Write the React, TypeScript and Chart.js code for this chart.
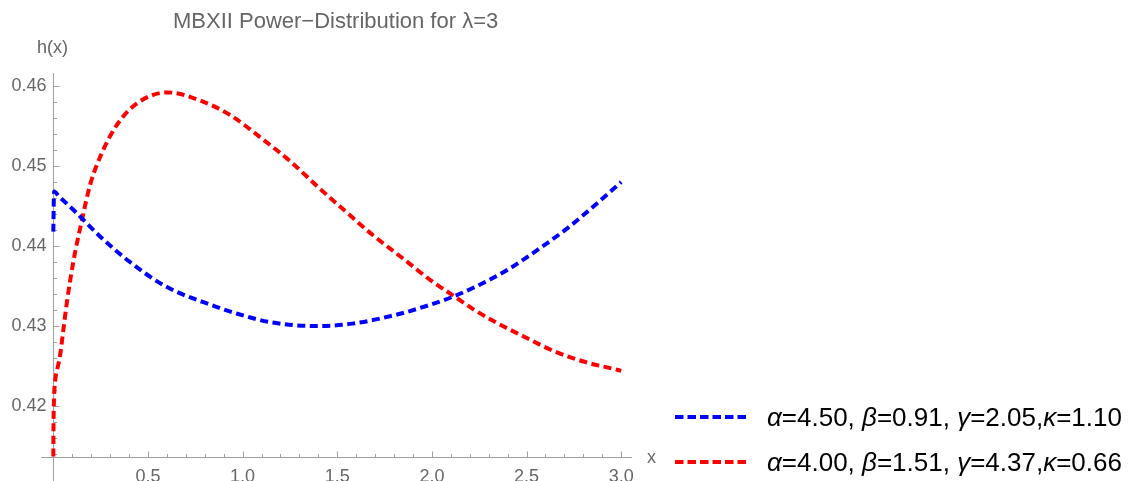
import React, { useEffect, useRef } from "react";
import { Chart, registerables } from "chart.js";

Chart.register(...registerables);

const TITLE = "MBXII Power\u2212Distribution for \u03bb=3";
const Y_LABEL = "h(x)";
const X_LABEL = "x";

const X_MAJOR = [0.5, 1.0, 1.5, 2.0, 2.5, 3.0];
const X_MAJOR_LABELS = ["0.5", "1.0", "1.5", "2.0", "2.5", "3.0"];
const Y_MAJOR = [0.42, 0.43, 0.44, 0.45, 0.46];
const Y_MAJOR_LABELS = ["0.42", "0.43", "0.44", "0.45", "0.46"];

const blueX = [0, 0.004, 0.03, 0.107, 0.247, 0.405, 0.598, 0.861, 0.949, 1.142, 1.388, 1.58, 1.81, 1.984, 2.125, 2.247, 2.405, 2.563, 2.72, 2.861, 3.0];
const blueY = [0.4418, 0.4468, 0.4462, 0.4445, 0.4412, 0.438, 0.4349, 0.4324, 0.4317, 0.4305, 0.43, 0.4303, 0.4314, 0.4326, 0.4338, 0.4351, 0.4371, 0.4396, 0.4423, 0.4451, 0.448];

const redX = [0, 0.001, 0.004, 0.01, 0.02, 0.035, 0.053, 0.072, 0.107, 0.151, 0.195, 0.256, 0.335, 0.44, 0.605, 0.774, 0.932, 1.098, 1.256, 1.397, 1.545, 1.686, 1.844, 2.0, 2.107, 2.212, 2.335, 2.493, 2.65, 2.81, 2.967, 3.0];
const redY = [0.4137, 0.4175, 0.421, 0.4232, 0.4245, 0.4262, 0.4295, 0.433, 0.4382, 0.4432, 0.4477, 0.4516, 0.4551, 0.4578, 0.4592, 0.4582, 0.4564, 0.4535, 0.4505, 0.4474, 0.4443, 0.4414, 0.4385, 0.4356, 0.4339, 0.4322, 0.4305, 0.4286, 0.4268, 0.4255, 0.4246, 0.4244];

// legend labels as parts: [text, italic]
const BLUE_LABEL: [string, boolean][] = [["\u03b1", true], ["=4.50, ", false], ["\u03b2", true], ["=0.91, ", false], ["\u03b3", true], ["=2.05,", false], ["\u03ba", true], ["=1.10", false]];
const RED_LABEL: [string, boolean][] = [["\u03b1", true], ["=4.00, ", false], ["\u03b2", true], ["=1.51, ", false], ["\u03b3", true], ["=4.37,", false], ["\u03ba", true], ["=0.66", false]];

const BLUE = "#0000ff";
const RED = "#ff0000";
const AXIS = "#a0a0a0";
const TEXT = "#666666";
const FONT = "'Liberation Sans', Arial, sans-serif";

const X_AXIS_Y = 0.41363;

const axesPlugin = {
  id: "mmaAxes",
  beforeDatasetsDraw(chart: any) {
    const ctx = chart.ctx;
    const xs = chart.scales.x;
    const ys = chart.scales.y;
    const ca = chart.chartArea;
    const x0 = Math.round(xs.getPixelForValue(0)) + 0.5;
    const yA = Math.round(ys.getPixelForValue(X_AXIS_Y)) + 0.5;
    ctx.save();
    ctx.strokeStyle = AXIS;
    ctx.lineWidth = 1;
    ctx.beginPath();
    ctx.moveTo(x0, ca.top);
    ctx.lineTo(x0, ca.bottom);
    ctx.moveTo(ca.left, yA);
    ctx.lineTo(ca.right, yA);
    // y ticks
    for (let i = 0; i <= 30; i++) {
      const v = 0.414 + i * 0.002;
      if (v > 0.4605) break;
      const p = Math.round(ys.getPixelForValue(v)) + 0.5;
      const major = Math.abs(v * 100 - Math.round(v * 100)) < 1e-6;
      ctx.moveTo(x0, p);
      ctx.lineTo(x0 + (major ? 6 : 3.5), p);
    }
    // x ticks
    for (let i = 1; i <= 30; i++) {
      const v = i * 0.1;
      const p = Math.round(xs.getPixelForValue(v)) + 0.5;
      const major = i % 5 === 0;
      ctx.moveTo(p, yA);
      ctx.lineTo(p, yA - (major ? 6 : 3.5));
    }
    ctx.stroke();

    ctx.fillStyle = TEXT;
    ctx.font = `18px ${FONT}`;
    ctx.textAlign = "right";
    ctx.textBaseline = "middle";
    Y_MAJOR.forEach((v, i) => {
      ctx.fillText(Y_MAJOR_LABELS[i], x0 - 7, ys.getPixelForValue(v));
    });
    ctx.textAlign = "center";
    ctx.textBaseline = "top";
    X_MAJOR.forEach((v, i) => {
      ctx.fillText(X_MAJOR_LABELS[i], xs.getPixelForValue(v), yA + 11);
    });
    ctx.textAlign = "left";
    ctx.textBaseline = "middle";
    ctx.fillText(X_LABEL, ca.right + 15, yA + 1);
    ctx.textAlign = "center";
    ctx.fillText(Y_LABEL, x0 - 1, 48);

    ctx.font = `22px ${FONT}`;
    ctx.textAlign = "left";
    ctx.textBaseline = "alphabetic";
    ctx.fillText(TITLE, 173, 28);
    ctx.restore();
  },
  afterDraw(chart: any) {
    const ctx = chart.ctx;
    ctx.save();
    const rows: [string, [string, boolean][], number][] = [
      [BLUE, BLUE_LABEL, 417],
      [RED, RED_LABEL, 462],
    ];
    rows.forEach(([color, parts, y]) => {
      ctx.strokeStyle = color;
      ctx.lineWidth = 4;
      ctx.setLineDash([8.5, 4]);
      ctx.lineCap = "butt";
      ctx.beginPath();
      ctx.moveTo(675, y);
      ctx.lineTo(750, y);
      ctx.stroke();
      ctx.setLineDash([]);
      let x = 767;
      ctx.fillStyle = "#000000";
      ctx.textBaseline = "alphabetic";
      ctx.textAlign = "left";
      parts.forEach(([t, it]) => {
        ctx.font = `${it ? "italic " : ""}26px ${FONT}`;
        ctx.fillText(t, x, y + 9);
        x += ctx.measureText(t).width;
      });
    });
    ctx.restore();
  },
};

export default function App() {
  const ref = useRef<HTMLCanvasElement | null>(null);
  useEffect(() => {
    document.body.style.margin = "0";
    const canvas = ref.current;
    if (!canvas) return;
    const chart = new Chart(canvas, {
      type: "line",
      data: {
        datasets: [
          {
            label: "\u03b1=4.50, \u03b2=0.91, \u03b3=2.05,\u03ba=1.10",
            data: blueX.map((x, i) => ({ x, y: blueY[i] })),
            borderColor: BLUE,
            borderWidth: 4,
            borderDash: [8, 4.5],
            borderCapStyle: "butt",
            pointRadius: 0,
            fill: false,
            cubicInterpolationMode: "monotone",
          },
          {
            label: "\u03b1=4.00, \u03b2=1.51, \u03b3=4.37,\u03ba=0.66",
            data: redX.map((x, i) => ({ x, y: redY[i] })),
            borderColor: RED,
            borderWidth: 4,
            borderDash: [8, 4.5],
            borderCapStyle: "butt",
            pointRadius: 0,
            fill: false,
            cubicInterpolationMode: "monotone",
          },
        ],
      },
      options: {
        responsive: false,
        animation: false,
        layout: { padding: { left: 41, right: 497, top: 73, bottom: 0 } },
        plugins: { legend: { display: false }, title: { display: false }, tooltip: { enabled: false } },
        events: [],
        scales: {
          x: { type: "linear", min: -0.065, max: 3.057, display: false },
          y: { type: "linear", min: 0.41063, max: 0.461625, display: false },
        },
      },
      plugins: [axesPlugin],
    } as any);
    return () => chart.destroy();
  }, []);
  return <canvas ref={ref} width={1129} height={481} style={{ display: "block" }} />;
}
